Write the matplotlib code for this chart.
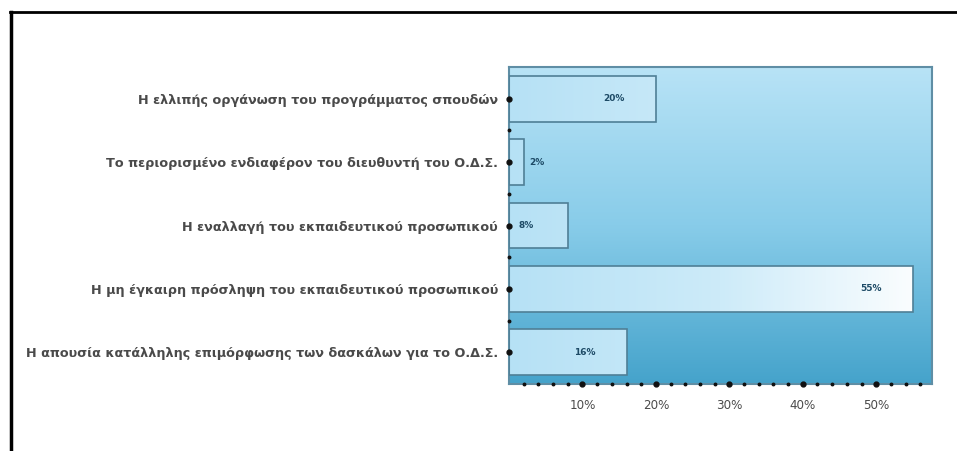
import numpy as np
import matplotlib.pyplot as plt
from matplotlib.colors import LinearSegmentedColormap
from matplotlib.lines import Line2D
from matplotlib.ticker import MultipleLocator, FuncFormatter

# Δεδομένα (από πάνω προς τα κάτω)
labels = [
    "Η ελλιπής οργάνωση του προγράμματος σπουδών",
    "Το περιορισμένο ενδιαφέρον του διευθυντή του Ο.Δ.Σ.",
    "Η εναλλαγή του εκπαιδευτικού προσωπικού",
    "Η μη έγκαιρη πρόσληψη του εκπαιδευτικού προσωπικού",
    "Η απουσία κατάλληλης επιμόρφωσης των δασκάλων για το Ο.Δ.Σ.",
]
values = [20, 2, 8, 55, 16]

plt.rcParams['font.family'] = ['DejaVu Sans']

fig = plt.figure(figsize=(9.57, 4.51), dpi=100)
ax = fig.add_axes([509 / 957, 1 - 384 / 451, (932 - 509) / 957, (384 - 67) / 451])

xmax = 57.6
n = len(values)

# φόντο με διαβάθμιση
bg = LinearSegmentedColormap.from_list('bg', ['#b8e3f6', '#88cce9', '#45a3cb'])
ax.imshow(np.linspace(0, 1, 256).reshape(-1, 1), cmap=bg, aspect='auto',
          extent=[0, xmax, n - 0.5, -0.5], zorder=0)

# μπάρες με διαβάθμιση από γαλάζιο σε λευκό (σε όλο το πλάτος του άξονα)
barcm = LinearSegmentedColormap.from_list('bar', ['#b6e1f5', '#cdebf9', '#ffffff'])
grad = np.linspace(0, 1, 256).reshape(1, -1)
h = 0.72
bars = ax.barh(range(n), values, height=h, color='none', edgecolor='#4f7f96',
               linewidth=1.2, zorder=3)
for b, v in zip(bars, values):
    y0 = b.get_y()
    im = ax.imshow(grad, cmap=barcm, aspect='auto', vmin=0, vmax=1,
                   extent=[0, xmax, y0 + h, y0], zorder=2)
    im.set_clip_path(b)
    x = v - 5.7 if v >= 5 else v + 1.8
    ax.text(x, y0 + h / 2, f"{v}%", ha='center', va='center',
            fontsize=6.5, fontweight='bold', color='#1d4a66', zorder=4)

ax.set_xlim(0, xmax)
ax.set_ylim(n - 0.5, -0.5)

# άξονες
for s in ['left', 'bottom', 'right', 'top']:
    ax.spines[s].set_color('#5f8ea5')
    ax.spines[s].set_linewidth(1.5)

ax.set_yticks(range(n))
ax.set_yticklabels(labels, fontsize=9.2, fontweight='bold', color='#4a4a4a')
ax.tick_params(axis='y', which='both', length=0, pad=8)
ax.xaxis.set_major_locator(MultipleLocator(10))
ax.xaxis.set_minor_locator(MultipleLocator(2))
ax.xaxis.set_major_formatter(FuncFormatter(lambda x, p: f"{x:.0f}%" if x > 0 else ""))
ax.tick_params(axis='x', which='both', length=0, pad=11, labelsize=8.6,
               labelcolor='#4a4a4a')

# κουκκίδες στους άξονες αντί για γραμμές υποδιαίρεσης
ax.plot(np.zeros(n), range(n), 'o', color='#111111', ms=3.5, clip_on=False, zorder=5)
ax.plot(np.zeros(n - 1), np.arange(n - 1) + 0.5, 'o', color='#111111', ms=1.8,
        clip_on=False, zorder=5)
ax.plot(np.arange(10, xmax, 10), np.full(5, n - 0.5), 'o', color='#111111', ms=3.5,
        clip_on=False, zorder=5)
minor = [m for m in np.arange(2, xmax, 2) if m % 10]
ax.plot(minor, np.full(len(minor), n - 0.5), 'o', color='#111111', ms=1.8,
        clip_on=False, zorder=5)

# πλαίσιο της εικόνας
fig.add_artist(Line2D([11 / 957, 11 / 957], [0, 1 - 12 / 451], color='black', lw=2.5,
                      transform=fig.transFigure))
fig.add_artist(Line2D([10 / 957, 1], [1 - 12 / 451, 1 - 12 / 451], color='black', lw=2,
                      transform=fig.transFigure))

fig.savefig('out.png', dpi=100)
